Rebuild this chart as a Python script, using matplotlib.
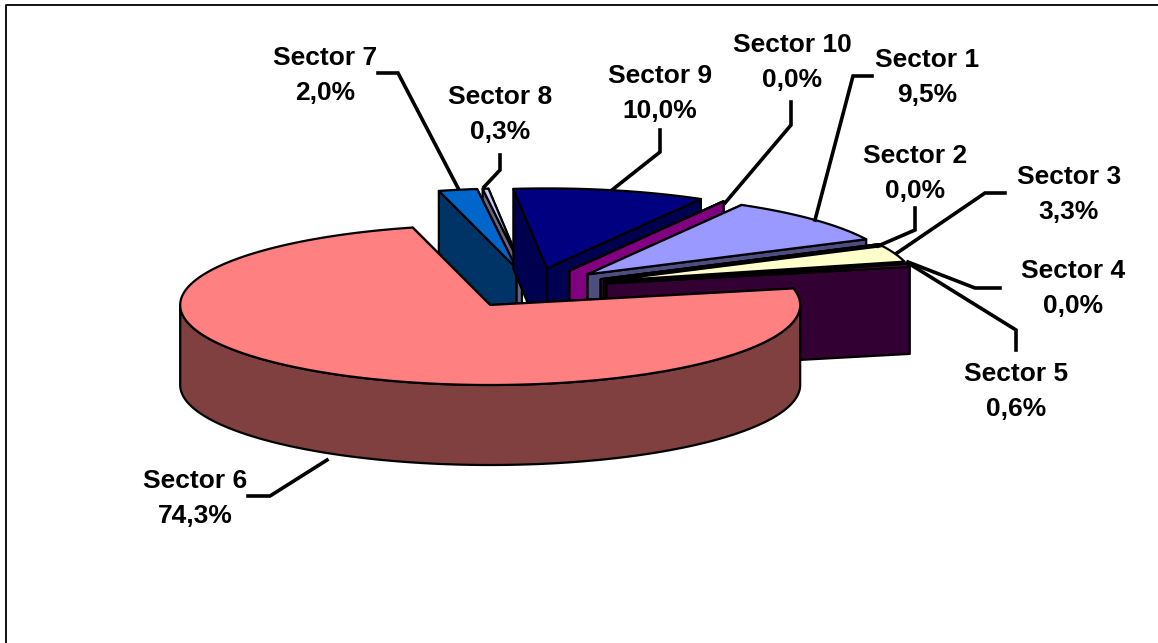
#!/usr/bin/env python3
import numpy as np
import matplotlib
matplotlib.use("Agg")
import matplotlib.pyplot as plt
from matplotlib.patches import Polygon

plt.rcParams["font.family"] = ["Liberation Sans", "DejaVu Sans"]

sectors = ["Sector 1", "Sector 2", "Sector 3", "Sector 4", "Sector 5",
           "Sector 6", "Sector 7", "Sector 8", "Sector 9", "Sector 10"]
shares = [9.5, 0.0, 3.3, 0.0, 0.6, 74.3, 2.0, 0.3, 10.0, 0.0]
top_colors = ["#9999FF", "#993366", "#FFFFCC", "#CCFFFF", "#660066",
              "#FF8080", "#0066CC", "#CCCCFF", "#000080", "#FF00FF"]
side_colors = ["#4D4D80", "#4D1A33", "#808066", "#668080", "#330033",
               "#804040", "#003366", "#666680", "#000050", "#800080"]
draw_order = [7, 6, 8, 9, 0, 1, 2, 3, 4, 5]

# label centre (first line) and leader line for each sector, in pixels
label_xy = [(927, 60), (915, 156), (1069, 177), (1073, 271), (1016, 374),
            (195, 481), (325, 58), (500, 97), (660, 76), (792, 45)]
leaders = [
    [(872, 76), (853, 76), (815, 220)],
    [(915, 208), (915, 230), (878, 246)],
    [(1005, 193), (985, 193), (897, 253)],
    [(1000, 288), (975, 288), (908, 262)],
    [(1016, 350), (1016, 330), (908, 263)],
    [(248, 496), (270, 496), (327, 460)],
    [(378, 73), (398, 73), (458, 188)],
    [(500, 155), (500, 170), (484, 187)],
    [(660, 130), (660, 152), (612, 190)],
    [(791, 102), (791, 125), (725, 203)],
]

CX, CY = 531, 288
RX, RY = 310, 80
DEPTH = 80
DEPTH_SECTOR5 = 87
EXPLODE = 0.25
START = 60.2


def ellipse(angles, cx, cy):
    rad = np.radians(angles)
    return np.column_stack([cx + RX * np.cos(rad), cy - RY * np.sin(rad)])


def draw_slice(ax, start, end, top, side, depth=DEPTH):
    mid = np.radians((start + end) / 2)
    tx = CX + EXPLODE * RX * np.cos(mid)
    ty = CY - EXPLODE * RY * np.sin(mid)
    style = dict(edgecolor="black", linewidth=1.6, joinstyle="round")

    # radial walls, the one sticking out furthest sideways goes on top
    for a in sorted((start, end), key=lambda v: abs(np.cos(np.radians(v)))):
        p = ellipse([a], tx, ty)[0]
        wall = [(tx, ty), p, (p[0], p[1] + depth), (tx, ty + depth)]
        ax.add_patch(Polygon(wall, facecolor=side, **style))

    # outer rim, only the front half shows
    lo, hi = max(end, -180), min(start, 0)
    if hi > lo:
        arc = ellipse(np.linspace(hi, lo, 120), tx, ty)
        rim = np.vstack([arc, arc[::-1] + [0, depth]])
        ax.add_patch(Polygon(rim, facecolor=side, **style))

    arc = ellipse(np.linspace(start, end, 200), tx, ty)
    ax.add_patch(Polygon(np.vstack([[tx, ty], arc]), facecolor=top, **style))


def main():
    fig = plt.figure(figsize=(11.58, 6.43), dpi=100)
    ax = fig.add_axes([0, 0, 1, 1])
    ax.set_xlim(0, 1158)
    ax.set_ylim(643, 0)
    ax.axis("off")

    # chart frame
    ax.plot([6, 6, 1158], [643, 5, 5], color="black", linewidth=1.3)

    sweep = np.array(shares) / sum(shares) * 360
    ends = START - np.cumsum(sweep)
    starts = ends + sweep
    for i in draw_order:
        depth = DEPTH_SECTOR5 if sectors[i] == "Sector 5" else DEPTH
        draw_slice(ax, starts[i], ends[i], top_colors[i], side_colors[i], depth)

    for name, val, xy, line in zip(sectors, shares, label_xy, leaders):
        xs, ys = zip(*line)
        ax.plot(xs, ys, color="black", linewidth=2.6, solid_joinstyle="miter")
        label = f"{val:.1f}%".replace(".", ",")
        ax.text(xy[0], xy[1], name, ha="center", va="center",
                fontsize=19, fontweight="bold", color="black")
        ax.text(xy[0], xy[1] + 35, label, ha="center", va="center",
                fontsize=19, fontweight="bold", color="black")

    fig.savefig("out.png", dpi=100)


if __name__ == "__main__":
    main()
